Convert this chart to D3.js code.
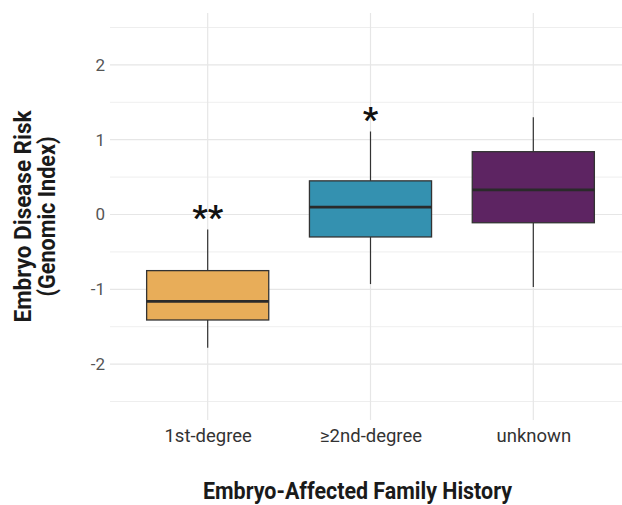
<!DOCTYPE html>
<html>
<head>
<meta charset="utf-8">
<script src="https://cdn.jsdelivr.net/npm/d3@7"></script>
<style>
  html, body { margin: 0; padding: 0; background: #fff; }
  svg { display: block; }
  text { font-family: Roboto, "Noto Sans", sans-serif; }
</style>
</head>
<body>
<svg id="chart" width="622" height="505"></svg>
<script>
// Box-plot summary per family-history group
const categories  = ["1st-degree", "\u22652nd-degree", "unknown"];
const whiskerLow  = [-1.78, -0.93, -0.97];
const q1          = [-1.41, -0.30, -0.11];
const median      = [-1.16,  0.10,  0.33];
const q3          = [-0.75,  0.45,  0.84];
const whiskerHigh = [-0.20,  1.11,  1.30];
const sigLabels   = ["**", "*", ""];
const fills       = ["#E8AD59", "#3491B0", "#5D2462"];
const yTicks      = [-2, -1, 0, 1, 2];
const yMinor      = [-2.5, -1.5, -0.5, 0.5, 1.5, 2.5];

const svg = d3.select("#chart");
const panel = { left: 110, right: 631, top: 13, bottom: 420 };

const x = d3.scalePoint().domain(categories)
  .range([panel.left, panel.right]).padding(0.6);
const y = d3.scaleLinear().domain([-2.747, 2.694])
  .range([panel.bottom, panel.top]);
const boxW = x.step() * 0.75;

// grid
const grid = svg.append("g");
grid.selectAll("line.minor").data(yMinor).join("line")
  .attr("x1", panel.left).attr("x2", panel.right)
  .attr("y1", d => y(d)).attr("y2", d => y(d))
  .attr("stroke", "#ececec").attr("stroke-width", 0.9);
grid.selectAll("line.major").data(yTicks).join("line")
  .attr("x1", panel.left).attr("x2", panel.right)
  .attr("y1", d => y(d)).attr("y2", d => y(d))
  .attr("stroke", "#e6e6e6").attr("stroke-width", 1.2);
grid.selectAll("line.vert").data(categories).join("line")
  .attr("x1", d => x(d)).attr("x2", d => x(d))
  .attr("y1", panel.top).attr("y2", panel.bottom)
  .attr("stroke", "#e6e6e6").attr("stroke-width", 1.2);

// y axis labels (plain hyphen for negatives)
const yAxis = svg.append("g")
  .attr("transform", `translate(${panel.left},0)`)
  .call(d3.axisLeft(y).tickValues(yTicks).tickSize(0).tickPadding(5).tickFormat(d => String(d)));
yAxis.select(".domain").remove();
yAxis.selectAll("text")
  .attr("font-family", "Roboto").attr("font-size", 17).attr("fill", "#555");

// x axis labels
const xAxis = svg.append("g")
  .attr("transform", `translate(0,${panel.bottom})`)
  .call(d3.axisBottom(x).tickSize(0).tickPadding(9));
xAxis.select(".domain").remove();
xAxis.selectAll("text")
  .attr("font-family", "Roboto").attr("font-size", 18.5).attr("fill", "#333");

// boxes
const idx = d3.range(categories.length);
const boxes = svg.append("g").selectAll("g").data(idx).join("g");
boxes.append("line")
  .attr("x1", i => x(categories[i])).attr("x2", i => x(categories[i]))
  .attr("y1", i => y(whiskerHigh[i])).attr("y2", i => y(q3[i]))
  .attr("stroke", "#333").attr("stroke-width", 1.2);
boxes.append("line")
  .attr("x1", i => x(categories[i])).attr("x2", i => x(categories[i]))
  .attr("y1", i => y(q1[i])).attr("y2", i => y(whiskerLow[i]))
  .attr("stroke", "#333").attr("stroke-width", 1.2);
boxes.append("rect")
  .attr("x", i => x(categories[i]) - boxW / 2)
  .attr("width", boxW)
  .attr("y", i => y(q3[i]))
  .attr("height", i => y(q1[i]) - y(q3[i]))
  .attr("fill", i => fills[i])
  .attr("stroke", "#333").attr("stroke-width", 1.3);
boxes.append("line")
  .attr("x1", i => x(categories[i]) - boxW / 2).attr("x2", i => x(categories[i]) + boxW / 2)
  .attr("y1", i => y(median[i])).attr("y2", i => y(median[i]))
  .attr("stroke", "#2a2a2a").attr("stroke-width", 2.8);

// significance marks sit on the upper whisker
svg.append("g").selectAll("text").data(idx.filter(i => sigLabels[i])).join("text")
  .attr("x", i => x(categories[i]))
  .attr("y", i => y(whiskerHigh[i]))
  .attr("text-anchor", "middle")
  .attr("font-size", 34).attr("font-weight", 700).attr("fill", "#111")
  .text(i => sigLabels[i]);

// axis titles (bold, slightly condensed)
svg.append("text")
  .attr("x", 357.5).attr("y", 499)
  .attr("text-anchor", "middle")
  .attr("font-size", 23.5).attr("font-weight", 700).attr("fill", "#1a1a1a")
  .attr("textLength", 309).attr("lengthAdjust", "spacingAndGlyphs")
  .text("Embryo-Affected Family History");

const yTitle = svg.append("g")
  .attr("transform", `translate(0,${(panel.top + panel.bottom) / 2}) rotate(-90)`)
  .attr("font-size", 23.5).attr("font-weight", 700).attr("fill", "#1a1a1a");
yTitle.append("text").attr("x", 0).attr("y", 30.5)
  .attr("text-anchor", "middle")
  .attr("textLength", 212).attr("lengthAdjust", "spacingAndGlyphs")
  .text("Embryo Disease Risk");
yTitle.append("text").attr("x", 0).attr("y", 55)
  .attr("text-anchor", "middle")
  .attr("textLength", 160).attr("lengthAdjust", "spacingAndGlyphs")
  .text("(Genomic Index)");
</script>
</body>
</html>
